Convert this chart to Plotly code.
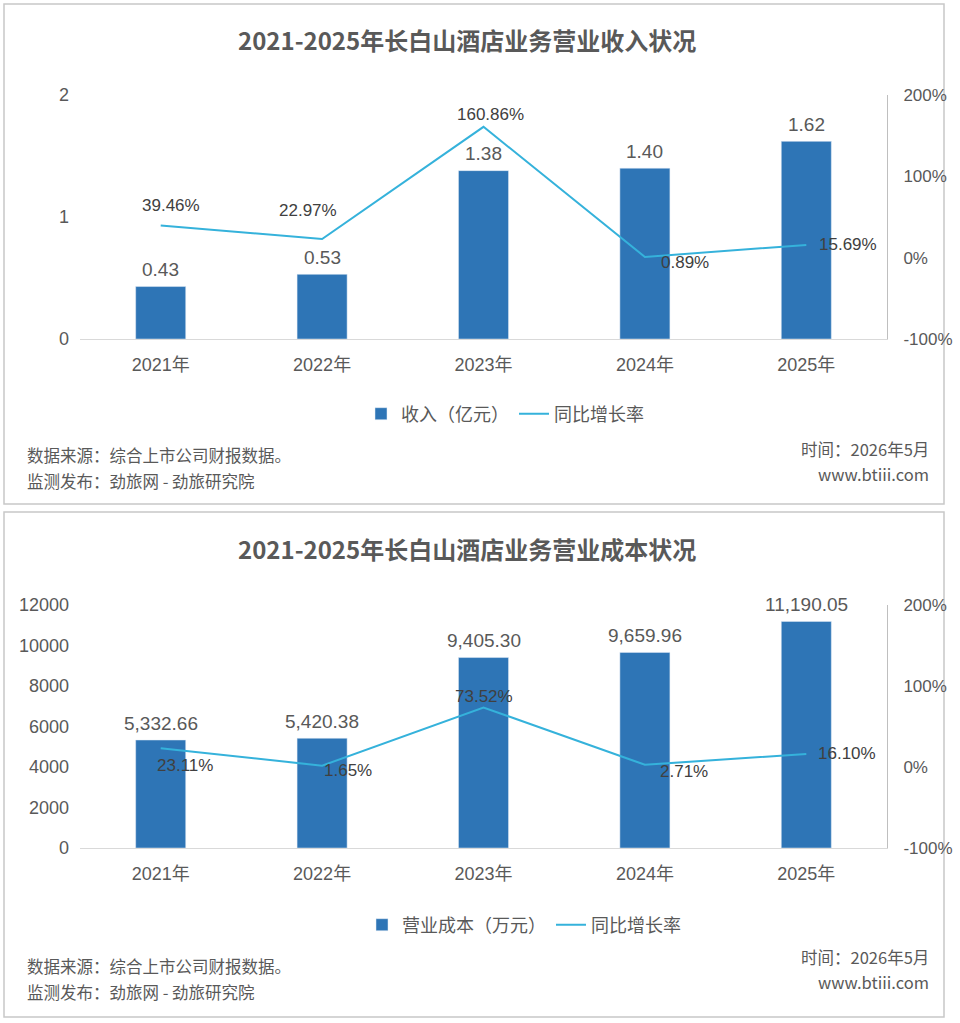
import plotly.graph_objects as go

# ---------------- data ----------------
years = ["2021年", "2022年", "2023年", "2024年", "2025年"]
revenue = [0.43, 0.53, 1.38, 1.40, 1.62]            # 亿元
revenue_growth = [39.46, 22.97, 160.86, 0.89, 15.69]  # %
cost = [5332.66, 5420.38, 9405.30, 9659.96, 11190.05]  # 万元
cost_growth = [23.11, 1.65, 73.52, 2.71, 16.10]       # %

pct_tickvals = [-100, 0, 100, 200]
pct_ticktext = ["-100%", "0%", "100%", "200%"]

title1 = "2021-2025年长白山酒店业务营业收入状况"
title2 = "2021-2025年长白山酒店业务营业成本状况"
source_text = "数据来源：综合上市公司财报数据。"
publisher_text = "监测发布：劲旅网 - 劲旅研究院"
time_text = "时间：2026年5月"
site_text = "www.btiii.com"

# ---------------- style ----------------
W, H = 960, 1023
BAR = "#2E75B6"
LINE = "#35B2DB"
GRAY = "#595959"
DARK = "#404040"
NUM_FONT = "Liberation Sans, Arial, Noto Sans CJK SC, sans-serif"
CJK_FONT = "Noto Sans CJK SC, sans-serif"


def px_x(x):
    return x / W


def px_y(y):
    return 1 - y / H


# label offsets (xshift, yshift) for growth labels
top_offsets = [(10, 20), (-14, 28), (7, 12), (40, -6), (42, 0)]
bot_offsets = [(24, -17), (26, -5), (0, 11), (39, -7), (41, 0)]

fig = go.Figure()

# top chart
fig.add_trace(go.Bar(x=years, y=revenue, name="收入（亿元）", marker_color=BAR,
                     xaxis="x", yaxis="y", legend="legend"))
fig.add_trace(go.Scatter(x=years, y=revenue_growth, name="同比增长率", mode="lines",
                         line=dict(color=LINE, width=2), xaxis="x", yaxis="y2",
                         legend="legend"))
# bottom chart
fig.add_trace(go.Bar(x=years, y=cost, name="营业成本（万元）", marker_color=BAR,
                     xaxis="x2", yaxis="y3", legend="legend2"))
fig.add_trace(go.Scatter(x=years, y=cost_growth, name="同比增长率", mode="lines",
                         line=dict(color=LINE, width=2), xaxis="x2", yaxis="y4",
                         legend="legend2"))

xdom = [px_x(80), px_x(887)]
top_dom = [px_y(339), px_y(95)]
bot_dom = [px_y(848), px_y(605)]

xaxis_common = dict(domain=xdom, type="category", range=[-0.5, 4.5], showline=True,
                    linecolor="#D9D9D9", linewidth=1, showgrid=False, ticks="",
                    tickfont=dict(family=NUM_FONT, size=18, color=GRAY),
                    ticklabelstandoff=9, zeroline=False, automargin=False)
left_common = dict(showgrid=False, zeroline=False, showline=False, ticks="",
                   tickfont=dict(family=NUM_FONT, size=18, color=GRAY),
                   ticklabelstandoff=10, automargin=False)
right_common = dict(side="right", showgrid=False, zeroline=False, showline=True,
                    linecolor="#BFBFBF", linewidth=1, ticks="",
                    range=[-100, 200], tickvals=pct_tickvals, ticktext=pct_ticktext,
                    tickfont=dict(family=NUM_FONT, size=17, color=GRAY),
                    ticklabelstandoff=12, automargin=False)

fig.update_layout(
    width=W, height=H, margin=dict(l=0, r=0, t=0, b=0, pad=0, autoexpand=False),
    paper_bgcolor="white", plot_bgcolor="white",
    bargap=0.69,
    xaxis=dict(anchor="y", **xaxis_common),
    yaxis=dict(domain=top_dom, range=[0, 2], dtick=1, anchor="x", **left_common),
    yaxis2=dict(domain=top_dom, overlaying="y", anchor="x", **right_common),
    xaxis2=dict(anchor="y3", **xaxis_common),
    yaxis3=dict(domain=bot_dom, range=[0, 12000], dtick=2000, tickformat="d",
                anchor="x2", **left_common),
    yaxis4=dict(domain=bot_dom, overlaying="y3", anchor="x2", **right_common),
    legend=dict(orientation="h", x=px_x(505), xanchor="center", y=px_y(414),
                yanchor="middle", font=dict(family=CJK_FONT, size=18, color=GRAY),
                bgcolor="rgba(0,0,0,0)"),
    legend2=dict(orientation="h", x=px_x(524), xanchor="center", y=px_y(925),
                 yanchor="middle", font=dict(family=CJK_FONT, size=18, color=GRAY),
                 bgcolor="rgba(0,0,0,0)"),
    showlegend=True,
)

ann = []
# bar value labels
for yr, v in zip(years, revenue):
    ann.append(dict(x=yr, y=v, xref="x", yref="y", text=f"{v:.2f}", showarrow=False,
                    yanchor="middle", yshift=17,
                    font=dict(family=NUM_FONT, size=19, color=GRAY)))
for yr, v in zip(years, cost):
    ann.append(dict(x=yr, y=v, xref="x2", yref="y3", text=f"{v:,.2f}", showarrow=False,
                    yanchor="middle", yshift=17,
                    font=dict(family=NUM_FONT, size=19, color=GRAY)))
# growth labels
for yr, v, (dx, dy) in zip(years, revenue_growth, top_offsets):
    ann.append(dict(x=yr, y=v, xref="x", yref="y2", text=f"{v:.2f}%", showarrow=False,
                    xshift=dx, yshift=dy,
                    font=dict(family=NUM_FONT, size=17, color=DARK)))
for yr, v, (dx, dy) in zip(years, cost_growth, bot_offsets):
    ann.append(dict(x=yr, y=v, xref="x2", yref="y4", text=f"{v:.2f}%", showarrow=False,
                    xshift=dx, yshift=dy,
                    font=dict(family=NUM_FONT, size=17, color=DARK)))

# titles and footers
for t, ty, src_y, pub_y, tm_y, st_y in [
    (title1, 40, 455, 481, 449, 474),
    (title2, 548, 966, 992, 957, 982),
]:
    ann.append(dict(x=px_x(467), y=px_y(ty), xref="paper", yref="paper", text=f"<b>{t}</b>",
                    showarrow=False, xanchor="center", yanchor="middle",
                    font=dict(family=CJK_FONT, size=24, color=GRAY)))
    ann.append(dict(x=px_x(25), y=px_y(src_y), xref="paper", yref="paper", text=source_text,
                    showarrow=False, xanchor="left", yanchor="middle",
                    font=dict(family=CJK_FONT, size=16.5, color=GRAY)))
    ann.append(dict(x=px_x(25), y=px_y(pub_y), xref="paper", yref="paper", text=publisher_text,
                    showarrow=False, xanchor="left", yanchor="middle",
                    font=dict(family=CJK_FONT, size=16.5, color=GRAY)))
    ann.append(dict(x=px_x(931), y=px_y(tm_y), xref="paper", yref="paper", text=time_text,
                    showarrow=False, xanchor="right", yanchor="middle",
                    font=dict(family=CJK_FONT, size=16.5, color=GRAY)))
    ann.append(dict(x=px_x(931), y=px_y(st_y), xref="paper", yref="paper", text=site_text,
                    showarrow=False, xanchor="right", yanchor="middle",
                    font=dict(family=CJK_FONT, size=16.5, color=GRAY)))

fig.update_layout(annotations=ann)

# panel borders
shapes = []
for (x0, y0, x1, y1) in [(4, 4, 944, 504), (4, 512, 944, 1017)]:
    shapes.append(dict(type="rect", xref="paper", yref="paper",
                       x0=px_x(x0), x1=px_x(x1), y0=px_y(y1), y1=px_y(y0),
                       line=dict(color="#C8C8C8", width=1.5), fillcolor="rgba(0,0,0,0)",
                       layer="below"))
fig.update_layout(shapes=shapes)

fig.write_html("out.html")
